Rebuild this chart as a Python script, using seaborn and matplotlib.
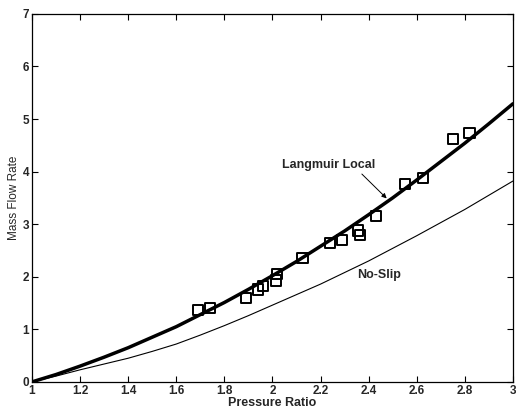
import matplotlib
matplotlib.use("Agg")
import matplotlib.pyplot as plt
import pandas as pd
import seaborn as sns

# pressure ratio grid used for the two model curves
ratio = [1.0, 1.1, 1.2, 1.3, 1.4, 1.5, 1.6, 1.7, 1.8, 1.9, 2.0,
         2.1, 2.2, 2.3, 2.4, 2.5, 2.6, 2.7, 2.8, 2.9, 3.0]
# Langmuir local slip model (thick curve)
langmuir = [0.00, 0.14, 0.30, 0.47, 0.65, 0.85, 1.05, 1.28, 1.51, 1.76, 2.02,
            2.29, 2.58, 2.87, 3.18, 3.50, 3.84, 4.19, 4.54, 4.91, 5.29]
# no-slip model (thin curve)
noslip = [0.00, 0.11, 0.23, 0.34, 0.45, 0.58, 0.72, 0.89, 1.07, 1.26, 1.46,
          1.66, 1.86, 2.08, 2.30, 2.54, 2.78, 3.03, 3.28, 3.55, 3.82]

# measured points (squares)
exp_ratio = [1.69, 1.74, 1.89, 1.94, 1.96, 2.015, 2.02, 2.125, 2.24, 2.29,
             2.355, 2.365, 2.43, 2.55, 2.625, 2.75, 2.82]
exp_flow = [1.37, 1.40, 1.59, 1.76, 1.83, 1.93, 2.05, 2.35, 2.64, 2.70,
            2.88, 2.79, 3.15, 3.76, 3.88, 4.62, 4.74]

curves = pd.DataFrame({"ratio": ratio, "langmuir": langmuir, "noslip": noslip})
points = pd.DataFrame({"ratio": exp_ratio, "flow": exp_flow})

sns.set_style("ticks")
plt.rcParams['font.family'] = ['Liberation Sans', 'DejaVu Sans']

fig = plt.figure(figsize=(5.16, 4.08), dpi=100)
ax = fig.add_axes([0.062, 0.064, 0.932, 0.902])

# curves
sns.lineplot(data=curves, x="ratio", y="noslip", ax=ax, color="black", lw=0.8)
sns.lineplot(data=curves, x="ratio", y="langmuir", ax=ax, color="black", lw=2.5)

# experimental squares
sns.scatterplot(data=points, x="ratio", y="flow", ax=ax, marker="s", s=55,
                facecolor="none", edgecolor="black", linewidth=1.4, zorder=5)

ax.set_xlim(1, 3)
ax.set_ylim(0, 7)
ax.set_xticks([1, 1.2, 1.4, 1.6, 1.8, 2, 2.2, 2.4, 2.6, 2.8, 3])
ax.set_xticklabels(["1", "1.2", "1.4", "1.6", "1.8", "2", "2.2", "2.4", "2.6", "2.8", "3"])
ax.set_yticks(range(0, 8))

ax.tick_params(direction="in", top=True, right=True, length=4, width=0.8,
               labelsize=8.5, pad=2, color="black")
for lab in ax.get_xticklabels() + ax.get_yticklabels():
    lab.set_fontweight("bold")
for sp in ax.spines.values():
    sp.set_visible(True)
    sp.set_linewidth(0.9)
    sp.set_color("black")

ax.set_xlabel("Pressure Ratio", fontsize=9, fontweight="bold", labelpad=0)
ax.set_ylabel("Mass Flow Rate", fontsize=8.5, labelpad=2)

# labels on the curves
ax.annotate("Langmuir Local", xy=(2.475, 3.49), xytext=(2.04, 4.13),
            fontsize=9, fontweight="bold", va="center", ha="left",
            arrowprops=dict(arrowstyle="-|>", color="black", lw=0.7,
                            mutation_scale=7, shrinkA=0, shrinkB=0,
                            relpos=(0.82, 0.0)))
ax.text(2.354, 2.04, "No-Slip", fontsize=9, fontweight="bold", va="center", ha="left")

fig.savefig("out.png", dpi=100)
